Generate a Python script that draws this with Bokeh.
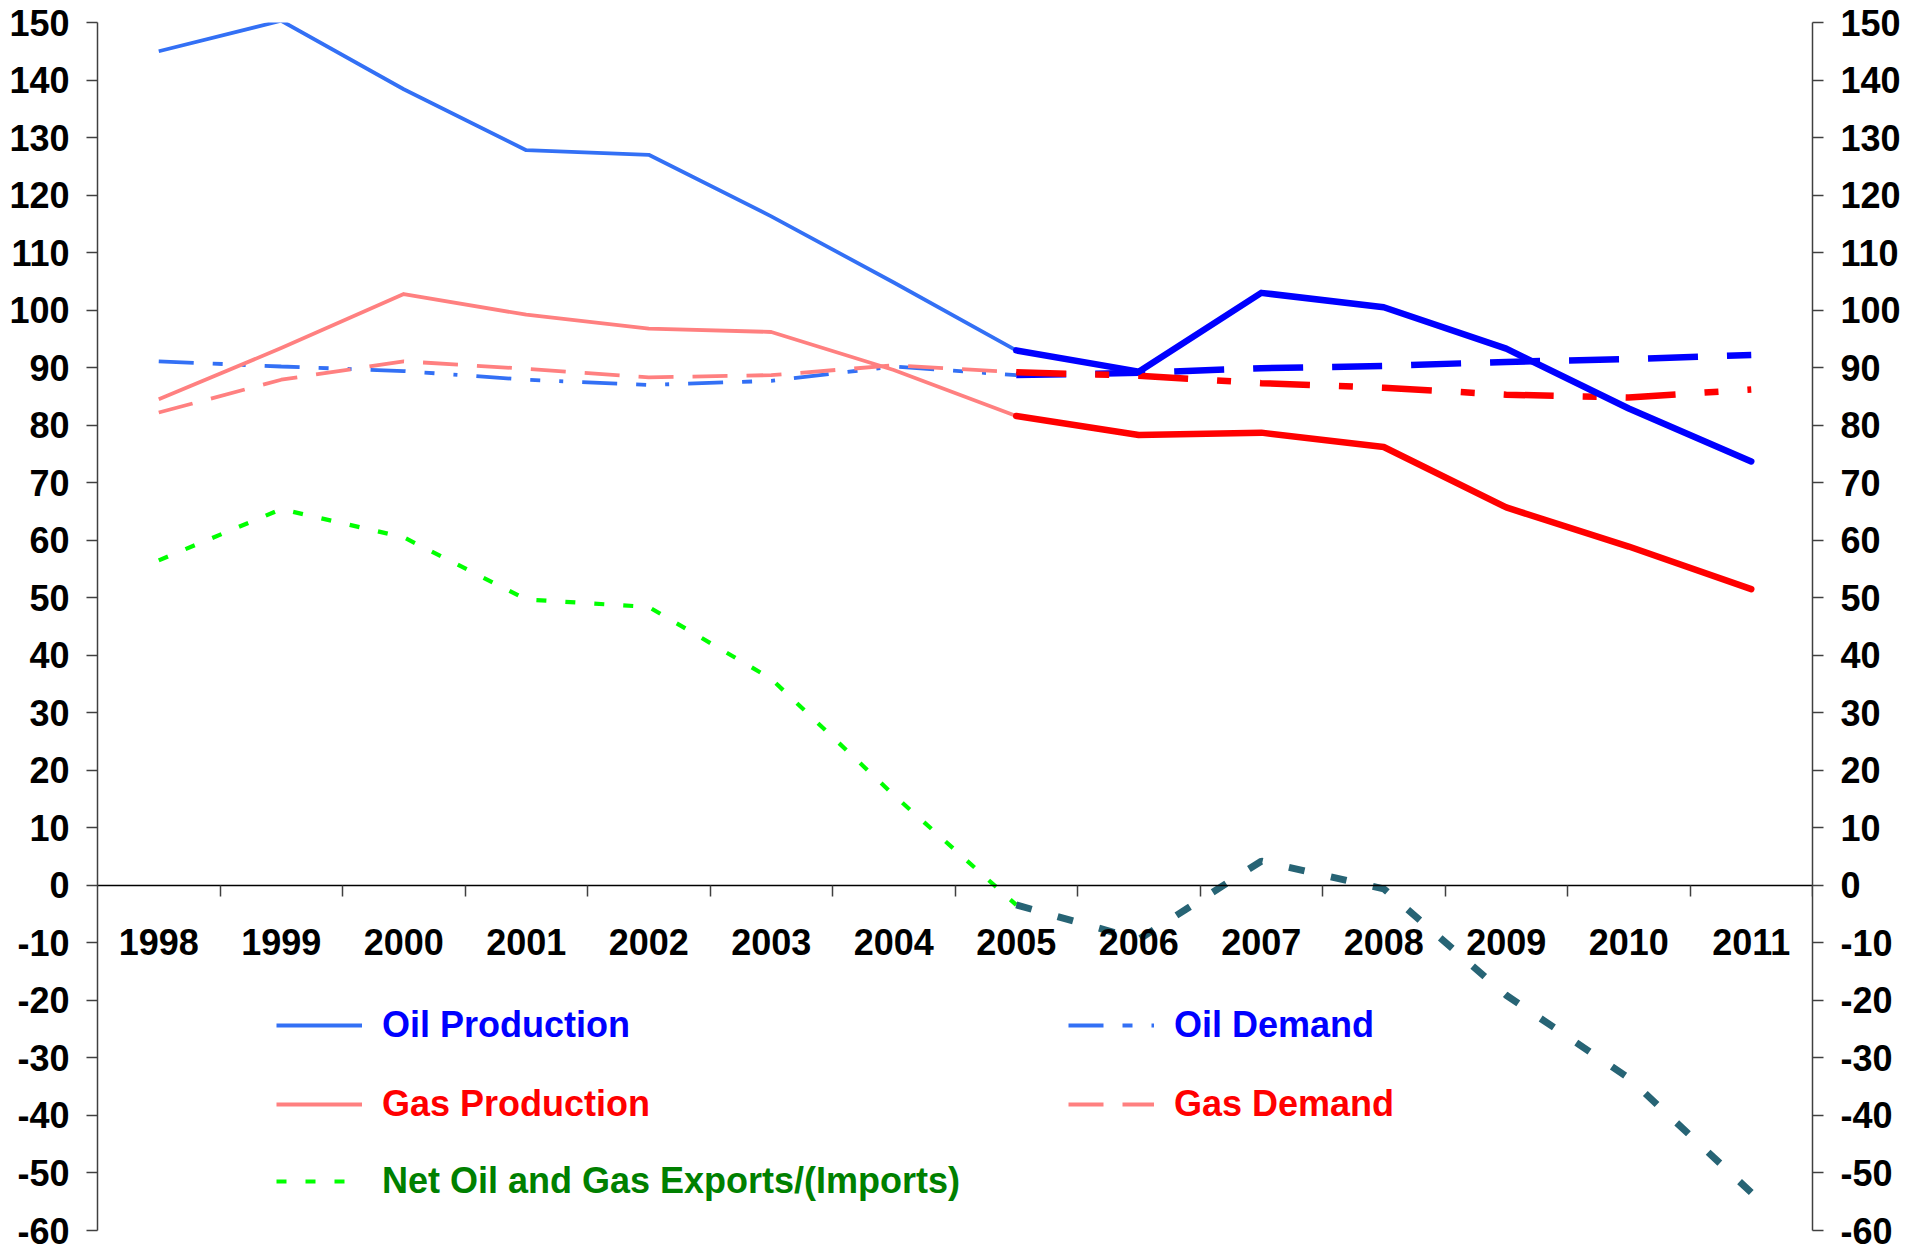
from bokeh.plotting import figure
from bokeh.models import Range1d, LinearAxis, FixedTicker, Legend, LegendItem
from bokeh.embed import file_html
from bokeh.resources import INLINE

# ---------------- data ----------------
years = [1998, 1999, 2000, 2001, 2002, 2003, 2004, 2005, 2006, 2007, 2008, 2009, 2010, 2011]
oil_production = [145.0, 150.3, 138.4, 127.8, 127.0, 116.3, 104.8, 93.0, 89.3, 103.0, 100.5, 93.3, 82.9, 73.7]
oil_demand = [91.1, 90.2, 89.4, 87.9, 87.0, 87.7, 90.2, 88.7, 89.1, 89.9, 90.3, 91.0, 91.5, 92.2]
gas_production = [84.5, 93.4, 102.8, 99.2, 96.8, 96.2, 89.6, 81.6, 78.3, 78.7, 76.2, 65.7, 58.9, 51.5]
gas_demand = [82.2, 87.9, 91.1, 89.8, 88.3, 88.7, 90.4, 89.2, 88.6, 87.3, 86.5, 85.3, 84.8, 86.2]
net_exports = [56.5, 65.4, 60.5, 49.7, 48.4, 35.9, 15.7, -3.4, -9.4, 4.2, -0.6, -19.1, -33.5, -53.4]
y_ticks = list(range(-60, 151, 10))
last_actual_year = 2005
labels = ["Oil Production", "Oil Demand", "Gas Production", "Gas Demand",
          "Net Oil and Gas Exports/(Imports)"]

FONT = "Liberation Sans"
FS = "36px"

p = figure(width=1912, height=1252,
           x_range=Range1d(years[0] - 0.5, years[-1] + 0.5),
           y_range=Range1d(y_ticks[0], y_ticks[-1]),
           output_backend="svg", toolbar_location=None,
           min_border_left=97, min_border_right=100,
           min_border_top=22, min_border_bottom=22,
           outline_line_color=None, background_fill_color="white",
           border_fill_color="white")
p.grid.visible = False

# x axis crossing at 0
xa = p.xaxis[0]
xa.fixed_location = 0
xa.ticker = FixedTicker(ticks=years, minor_ticks=[y + 0.5 for y in years])
xa.major_label_overrides = {y: str(y) for y in years}
xa.axis_line_color = "black"
xa.axis_line_width = 1.5
xa.major_tick_out = 0
xa.major_tick_in = 0
xa.minor_tick_out = 11
xa.minor_tick_in = 0
xa.minor_tick_line_color = "#404040"
xa.minor_tick_line_width = 1.5
xa.major_label_standoff = 33
xa.major_label_text_font = FONT
xa.major_label_text_font_style = "bold"
xa.major_label_text_font_size = FS
xa.major_label_text_color = "black"

def style_y(ax):
    ax.ticker = FixedTicker(ticks=y_ticks, minor_ticks=[])
    ax.major_label_overrides = {t: str(t) for t in y_ticks}
    ax.axis_line_color = "#404040"
    ax.axis_line_width = 1.5
    ax.major_tick_out = 11
    ax.major_tick_in = 0
    ax.major_tick_line_color = "#404040"
    ax.major_tick_line_width = 1.5
    ax.minor_tick_out = 0
    ax.minor_tick_in = 0
    ax.major_label_standoff = 17
    ax.major_label_text_font = FONT
    ax.major_label_text_font_style = "bold"
    ax.major_label_text_font_size = FS
    ax.major_label_text_color = "black"

style_y(p.yaxis[0])
ra = LinearAxis()
style_y(ra)
p.add_layout(ra, "right")

# ---------------- lines ----------------
n = years.index(last_actual_year) + 1
hx, px = years[:n], years[n - 1:]

r_oil_dem = p.line(hx, oil_demand[:n], line_color="#3370F5", line_width=3.8,
                   line_dash="35 19 10 19 4 19")
r_gas_dem = p.line(hx, gas_demand[:n], line_color="#FF8080", line_width=3.8,
                   line_dash="35 19")
r_oil_prod = p.line(hx, oil_production[:n], line_color="#3370F5", line_width=3.8,
                    line_join="round")
r_gas_prod = p.line(hx, gas_production[:n], line_color="#FF8080", line_width=3.8,
                    line_join="round")
r_net = p.line(hx, net_exports[:n], line_color="#00FF00", line_width=4.2,
               line_dash="10 19")

p.line(px, oil_demand[n - 1:], line_color="#0000FF", line_width=6.5, line_dash="50 29")
p.line(px, gas_demand[n - 1:], line_color="#FF0000", line_width=6.5, line_dash="50 29 14 29")
p.line(px, oil_production[n - 1:], line_color="#0000FF", line_width=6.5,
       line_join="round", line_cap="round")
p.line(px, gas_production[n - 1:], line_color="#FF0000", line_width=6.5,
       line_join="round", line_cap="round")
p.line(px, net_exports[n - 1:], line_color="#276475", line_width=7, line_dash="16 27")

# ---------------- legends ----------------
legend_specs = [
    (labels[0], r_oil_prod, "#0000FF", (179, 184)),
    (labels[2], r_gas_prod, "#FF0000", (179, 105)),
    (labels[4], r_net, "#008000", (179, 28)),
    (labels[1], r_oil_dem, "#0000FF", (971, 184)),
    (labels[3], r_gas_dem, "#FF0000", (971, 105)),
]
for lab, rend, col, loc in legend_specs:
    lg = Legend(items=[LegendItem(label=lab, renderers=[rend])], location=loc,
                glyph_width=86, glyph_height=40, label_height=40,
                label_standoff=20, padding=0, margin=0, spacing=0,
                border_line_color=None, background_fill_alpha=0,
                label_text_font=FONT, label_text_font_style="bold",
                label_text_font_size=FS, label_text_color=col,
                label_text_baseline="middle")
    p.add_layout(lg)

open("out.html", "w").write(file_html(p, INLINE))
